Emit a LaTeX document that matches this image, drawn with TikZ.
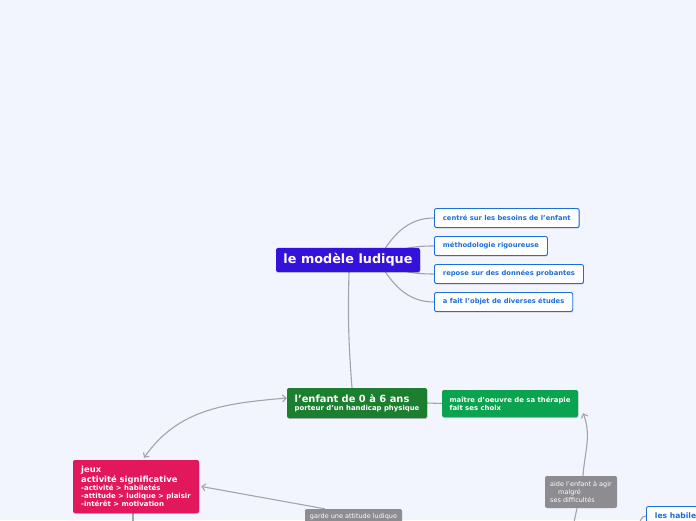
\documentclass[tikz,border=0pt]{standalone}
\usepackage{fontspec}
\setmainfont{DejaVu Sans}
\usetikzlibrary{arrows.meta,shadows,backgrounds,calc}
\definecolor{fondcarte}{HTML}{F2F5FE}
\definecolor{bleuracine}{HTML}{3412DA}
\definecolor{bleubranche}{HTML}{1B6FDB}
\definecolor{vertfonce}{HTML}{1C7F30}
\definecolor{vertclair}{HTML}{0AA34F}
\definecolor{rosejeux}{HTML}{E3175C}
\definecolor{grisetiq}{HTML}{8C8C91}
\definecolor{grislien}{HTML}{A3A3AD}
\tikzset{
	ombre/.style={drop shadow={shadow xshift=0.4pt,shadow yshift=-0.9pt,opacity=0.25,fill=black}},
	boite/.style={rounded corners=2pt,inner xsep=7pt,inner ysep=3pt,align=left,ombre},
	racine/.style={boite,fill=bleuracine,text=white,minimum width=144pt,minimum height=24pt,font=\bfseries\fontsize{12.8}{14}\selectfont},
	branche/.style={boite,draw=bleubranche,line width=0.9pt,fill=white,text=bleubranche,anchor=west,minimum height=19pt,inner xsep=8.5pt,font=\bfseries\fontsize{6.75}{8}\selectfont},
	bloc/.style={boite,text=white,font=\bfseries\fontsize{6.9}{8.2}\selectfont},
	etiquette/.style={rounded corners=2pt,fill=grisetiq,text=white,align=left,inner sep=3pt,font=\fontsize{6.5}{8.4}\selectfont},
	lien/.style={draw=grislien,line width=1.1pt},
	pointe/.style={-{Straight Barb[length=3.5pt,width=7pt]}}
}
\begin{document}
\begin{tikzpicture}[x=1pt,y=1pt,line cap=round,line join=round]
	\useasboundingbox (0,0) rectangle (696,520);
	\node[racine] (modele) at (348,260) {le modèle ludique};
	\node[branche] (besoins) at (434,302) {centré sur les besoins de l'enfant};
	\node[branche] (methodo) at (434,274) {méthodologie rigoureuse};
	\node[branche] (donnees) at (434,246) {repose sur des données probantes};
	\node[branche] (etudes) at (434,218) {a fait l'objet de diverses études};
	\node[bloc,fill=vertfonce,minimum width=140pt,minimum height=30pt] (enfant) at (357,117)
		{{\fontsize{9.9}{11}\selectfont l'enfant de 0 à 6 ans}\\porteur d'un handicap physique};
	\node[bloc,fill=vertclair,minimum width=136pt,minimum height=27pt] (maitre) at (510,116.5)
		{maître d'oeuvre de sa thérapie\\fait ses choix};
	\node[bloc,fill=rosejeux,minimum width=126pt,minimum height=53pt,font=\bfseries\fontsize{6.95}{8}\selectfont] (jeux) at (136,33.5)
		{{\fontsize{8.4}{9.5}\selectfont jeux}\\{\fontsize{8.4}{9.5}\selectfont activité significative}\\-activité > habiletés\\-attitude > ludique > plaisir\\-intérêt > motivation};
	\node[etiquette,minimum width=97pt,minimum height=15pt] (garde) at (353.5,3.5) {garde une attitude ludique};
	\node[etiquette,minimum width=72pt,minimum height=32pt] (aide) at (581,28)
		{aide l'enfant à agir\\\hspace*{8pt}malgré\\ses difficultés};
	\node[branche,anchor=north west,font=\bfseries\fontsize{7.6}{9}\selectfont] (habiletes) at (646,14) {les habiletés};
	\begin{scope}[on background layer]
		\fill[fondcarte] (0,0) rectangle (696,520);
		\coordinate (depart) at ($(modele.center)+(30,0)$);
		\draw[lien] (depart) to[out=60,in=180] (besoins.west);
		\draw[lien] (depart) to[out=30,in=180] (methodo.west);
		\draw[lien] (depart) to[out=-30,in=180] (donnees.west);
		\draw[lien] (depart) to[out=-60,in=180] (etudes.west);
		\draw[lien] ($(modele.south)+(1,0)$) to[bend right=3] ($(enfant.north)+(-5,0)$);
		\draw[lien] (enfant.east) -- (maitre.west);
		\draw[lien,{Straight Barb[length=3.5pt,width=7pt]}-{Straight Barb[length=3.5pt,width=7pt]}]
			($(jeux.north)+(8,2)$) to[out=55,in=185] ($(enfant.west)+(0,5)$);
		\draw[lien,pointe] ($(garde.north west)+(20,0)$) -- ($(jeux.east)+(2,0)$);
		\draw[lien,pointe] ($(aide.north)+(2,0)$) to[out=86,in=-70] ($(maitre.south east)+(5,4)$);
		\draw[lien] ($(aide.south)+(-4,0)$) -- ++(-3,-14);
		\draw[lien] ($(jeux.south)+(-3,0)$) -- ++(0,-10);
		\draw[lien] ($(habiletes.west)+(-8,-10)$) to[out=60,in=180] (habiletes.west);
	\end{scope}
\end{tikzpicture}
\end{document}
